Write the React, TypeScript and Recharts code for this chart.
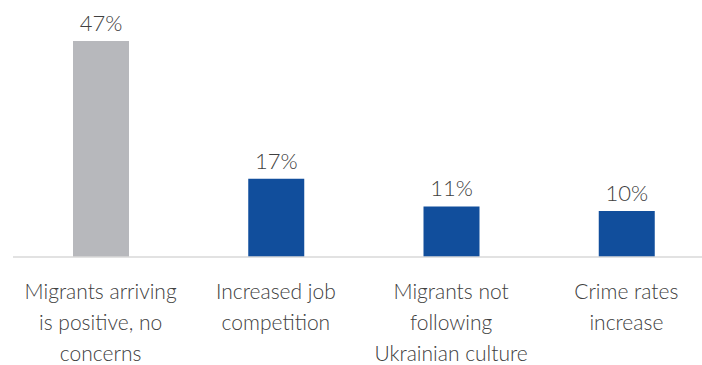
import React from "react";
import { BarChart, Bar, XAxis, YAxis, Cell, LabelList } from "recharts";

const categories = [
  "Migrants arriving|is positive, no|concerns",
  "Increased job|competition",
  "Migrants not|following|Ukrainian culture",
  "Crime rates|increase",
];
const shares = [47, 17, 11, 10];
const barColors = ["#B7B8BC", "#114E9C", "#114E9C", "#114E9C"];

const data = categories.map((c, i) => ({ category: c, share: shares[i] }));

const FONT = "Lato, 'Open Sans', sans-serif";
const TEXT_COLOR = "#404040";

const CategoryTick = (props: any) => {
  const { x, y, payload } = props;
  const lines: string[] = String(payload.value).split("|");
  return (
    <g transform={`translate(${x},${y})`}>
      {lines.map((line, i) => (
        <text
          key={i}
          x={0}
          y={34 + i * 31}
          textAnchor="middle"
          fill={TEXT_COLOR}
          fontFamily={FONT}
          fontWeight={300}
          fontSize={21}
        >
          {line}
        </text>
      ))}
    </g>
  );
};

const ValueLabel = (props: any) => {
  const { x, y, width, value } = props;
  return (
    <text
      x={x + width / 2}
      y={y - 10}
      textAnchor="middle"
      fill={TEXT_COLOR}
      fontFamily={FONT}
      fontWeight={300}
      fontSize={22}
    >
      {`${value}%`}
    </text>
  );
};

export default function App() {
  return (
    <div
      style={{
        position: "absolute",
        left: 0,
        top: 0,
        width: 702,
        height: 365,
        overflow: "hidden",
        background: "#ffffff",
      }}
    >
      <BarChart
        width={714}
        height={365}
        data={data}
        margin={{ top: 41, right: 0, bottom: 0, left: 13 }}
      >
        <YAxis hide domain={[0, 47]} />
        <XAxis
          dataKey="category"
          height={108}
          interval={0}
          tickLine={false}
          axisLine={{ stroke: "#D9D9D9", strokeWidth: 1.5 }}
          tick={<CategoryTick />}
        />
        <Bar dataKey="share" barSize={56} isAnimationActive={false}>
          {data.map((d, i) => (
            <Cell key={d.category} fill={barColors[i]} />
          ))}
          <LabelList dataKey="share" content={<ValueLabel />} />
        </Bar>
      </BarChart>
    </div>
  );
}
